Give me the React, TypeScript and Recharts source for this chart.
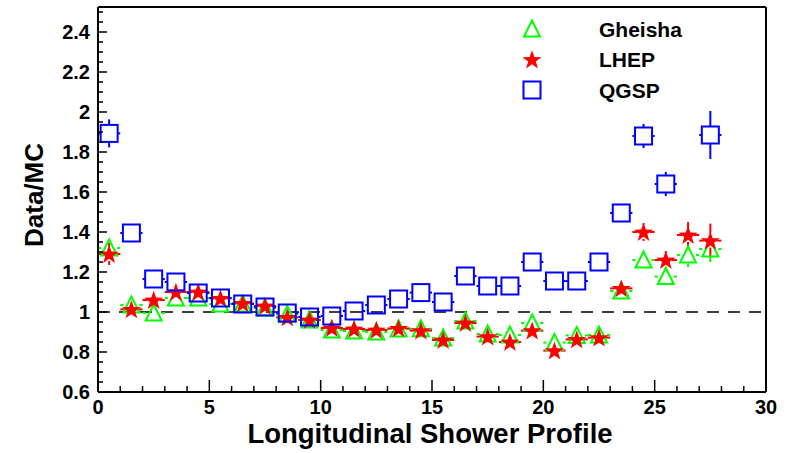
import { ScatterChart, Scatter, XAxis, YAxis, ErrorBar, ReferenceLine } from 'recharts'

// bin centres of the longitudinal profile
const bins = [0.5, 1.5, 2.5, 3.5, 4.5, 5.5, 6.5, 7.5, 8.5, 9.5, 10.5, 11.5, 12.5, 13.5,
  14.5, 15.5, 16.5, 17.5, 18.5, 19.5, 20.5, 21.5, 22.5, 23.5, 24.5, 25.5, 26.5, 27.5]

const gheisha = [1.32, 1.035, 0.995, 1.07, 1.07, 1.04, 1.04, 1.02, 0.987, 0.96, 0.91, 0.905, 0.9, 0.915,
  0.916, 0.87, 0.955, 0.89, 0.885, 0.945, 0.847, 0.883, 0.885, 1.105, 1.26, 1.177, 1.285, 1.315]
const gheishaErr = [0.03, 0.02, 0.02, 0.02, 0.02, 0.02, 0.02, 0.02, 0.02, 0.02, 0.02, 0.02, 0.02, 0.02,
  0.02, 0.02, 0.02, 0.02, 0.02, 0.02, 0.02, 0.02, 0.02, 0.03, 0.04, 0.04, 0.06, 0.065]

const lhep = [1.29, 1.013, 1.06, 1.1, 1.1, 1.068, 1.043, 1.03, 0.973, 0.96, 0.92, 0.915, 0.91, 0.918,
  0.907, 0.86, 0.945, 0.877, 0.85, 0.907, 0.807, 0.863, 0.872, 1.118, 1.4, 1.26, 1.385, 1.357]
const lhepErr = [0.055, 0.02, 0.02, 0.02, 0.02, 0.02, 0.02, 0.02, 0.02, 0.02, 0.02, 0.02, 0.02, 0.02,
  0.02, 0.02, 0.02, 0.02, 0.02, 0.02, 0.02, 0.02, 0.02, 0.03, 0.045, 0.045, 0.065, 0.085]

// no QGSP entry in bin 26.5
const qgsp = [1.893, 1.395, 1.165, 1.15, 1.095, 1.07, 1.04, 1.025, 0.995, 0.975, 0.98, 1.005, 1.035, 1.065,
  1.097, 1.05, 1.18, 1.13, 1.13, 1.25, 1.155, 1.155, 1.25, 1.495, 1.88, 1.64, null, 1.885]
const qgspErr = [0.07, 0.045, 0.02, 0.02, 0.02, 0.02, 0.02, 0.02, 0.02, 0.02, 0.02, 0.02, 0.02, 0.02,
  0.02, 0.02, 0.02, 0.02, 0.02, 0.02, 0.02, 0.02, 0.02, 0.03, 0.06, 0.06, 0, 0.12]

const xMajor = [0, 5, 10, 15, 20, 25, 30]
const xTicks = [0, 1, 2, 3, 4, 5, 6, 7, 8, 9, 10, 11, 12, 13, 14, 15, 16, 17, 18, 19, 20,
  21, 22, 23, 24, 25, 26, 27, 28, 29, 30]
const yTicks = [0.6, 0.65, 0.7, 0.75, 0.8, 0.85, 0.9, 0.95, 1, 1.05, 1.1, 1.15, 1.2, 1.25, 1.3, 1.35,
  1.4, 1.45, 1.5, 1.55, 1.6, 1.65, 1.7, 1.75, 1.8, 1.85, 1.9, 1.95, 2, 2.05, 2.1, 2.15, 2.2, 2.25,
  2.3, 2.35, 2.4, 2.45, 2.5]
const yMajor = [0.6, 0.8, 1, 1.2, 1.4, 1.6, 1.8, 2, 2.2, 2.4]

const Y_MIN = 0.6
const Y_MAX = 2.525
const HALF_BIN = 0.5

const FONT = '"Liberation Sans", Arial, Helvetica, sans-serif'
const GREEN = '#00ff00'
const RED = '#ff0000'
const BLUE = '#0000ff'

type Pt = { x: number; y: number; ex?: [number, number]; ey?: [number, number] }

function markers(vals: (number | null)[]): Pt[] {
  const out: Pt[] = []
  vals.forEach((v, i) => { if (v != null) out.push({ x: bins[i], y: v }) })
  return out
}

// ROOT leaves a gap around the marker, so the bars are split in two halves
function vBars(vals: (number | null)[], errs: number[], gap: number): Pt[] {
  const out: Pt[] = []
  vals.forEach((v, i) => {
    if (v == null || errs[i] <= gap) return
    out.push({ x: bins[i], y: v + gap, ey: [0, errs[i] - gap] })
    out.push({ x: bins[i], y: v - gap, ey: [errs[i] - gap, 0] })
  })
  return out
}

function hBars(vals: (number | null)[], gap: number): Pt[] {
  const out: Pt[] = []
  vals.forEach((v, i) => {
    if (v == null) return
    out.push({ x: bins[i] - gap, y: v, ex: [HALF_BIN - gap, 0] })
    out.push({ x: bins[i] + gap, y: v, ex: [0, HALF_BIN - gap] })
  })
  return out
}

function Triangle({ cx, cy }: { cx?: number; cy?: number }) {
  if (cx == null || cy == null) return <g />
  return (
    <polygon
      points={`${cx - 8},${cy + 7.5} ${cx + 8},${cy + 7.5} ${cx},${cy - 8.5}`}
      fill="none" stroke={GREEN} strokeWidth={2} strokeLinejoin="miter"
    />
  )
}

function Star({ cx, cy }: { cx?: number; cy?: number }) {
  if (cx == null || cy == null) return <g />
  const R = 10, r = 4
  const pts: string[] = []
  for (let k = 0; k < 10; k++) {
    const a = -Math.PI / 2 + (k * Math.PI) / 5
    const rr = k % 2 === 0 ? R : r
    pts.push(`${cx + rr * Math.cos(a)},${cy + rr * Math.sin(a) + 0.8}`)
  }
  return <polygon points={pts.join(' ')} fill={RED} stroke="none" />
}

function Square({ cx, cy }: { cx?: number; cy?: number }) {
  if (cx == null || cy == null) return <g />
  return <rect x={cx - 8.5} y={cy - 8.5} width={17} height={17} fill="none" stroke={BLUE} strokeWidth={2} />
}

const Nothing = () => <g />

function XTick(props: any) {
  const { x, y, payload } = props
  const v = payload.value as number
  const major = xMajor.includes(v)
  return (
    <g>
      <line x1={x} x2={x} y1={y} y2={y - (major ? 12 : 6)} stroke="#000" strokeWidth={1.5} />
      {major && (
        <text x={x} y={y + 21.5} textAnchor="middle" fontFamily={FONT} fontWeight="bold" fontSize={20} fill="#000">
          {v}
        </text>
      )}
    </g>
  )
}

function YTick(props: any) {
  const { x, y, payload } = props
  const v = payload.value as number
  const major = yMajor.some((m) => Math.abs(m - v) < 1e-6)
  return (
    <g>
      <line x1={x} x2={x + (major ? 9 : 5)} y1={y} y2={y} stroke="#000" strokeWidth={1.5} />
      {major && (
        <text x={x - 8} y={y} dy="0.36em" textAnchor="end" fontFamily={FONT} fontWeight="bold" fontSize={20} fill="#000">
          {String(Math.round(v * 10) / 10)}
        </text>
      )}
    </g>
  )
}

const series = [
  { name: 'Gheisha', vals: gheisha, errs: gheishaErr, color: GREEN, shape: Triangle, gy: 0.042, gx: 0.36 },
  { name: 'LHEP', vals: lhep, errs: lhepErr, color: RED, shape: Star, gy: 0.035, gx: 0.27 },
  { name: 'QGSP', vals: qgsp, errs: qgspErr, color: BLUE, shape: Square, gy: 0.045, gx: 0.4 },
]

export default function App() {
  return (
    <div style={{ position: 'absolute', left: 0, top: 0, width: 789, height: 453, background: '#fff' }}>
      <ScatterChart width={789} height={453} margin={{ top: 7, right: 23, bottom: 60, left: 97 }}>
        <XAxis
          type="number" dataKey="x" domain={[0, 30]} ticks={xTicks} interval={0}
          height={1} tickSize={0} tickMargin={0} tickLine={false}
          axisLine={{ stroke: '#000', strokeWidth: 2 }} tick={(p: any) => <XTick {...p} />}
          allowDataOverflow
        />
        <YAxis
          type="number" dataKey="y" domain={[Y_MIN, Y_MAX]} ticks={yTicks} interval={0}
          width={1} tickSize={0} tickMargin={0} tickLine={false}
          axisLine={{ stroke: '#000', strokeWidth: 2 }} tick={(p: any) => <YTick {...p} />}
          allowDataOverflow
        />
        <ReferenceLine y={Y_MAX} stroke="#000" strokeWidth={2} />
        <ReferenceLine x={30} stroke="#000" strokeWidth={2} />
        <ReferenceLine y={1} stroke="#000" strokeWidth={1.5} strokeDasharray="12 9" />
        {series.map((s) => [
          <Scatter key={s.name + 'h'} data={hBars(s.vals, s.gx)} shape={Nothing} isAnimationActive={false}>
            <ErrorBar dataKey="ex" direction="x" width={0} stroke={s.color} strokeWidth={2} isAnimationActive={false} />
          </Scatter>,
          <Scatter key={s.name + 'v'} data={vBars(s.vals, s.errs, s.gy)} shape={Nothing} isAnimationActive={false}>
            <ErrorBar dataKey="ey" direction="y" width={0} stroke={s.color} strokeWidth={2} isAnimationActive={false} />
          </Scatter>,
          <Scatter key={s.name} name={s.name} data={markers(s.vals)} shape={s.shape} isAnimationActive={false} />,
        ])}
      </ScatterChart>
      <svg width={789} height={453} style={{ position: 'absolute', left: 0, top: 0, pointerEvents: 'none' }}>
        <text x={43} y={195} transform="rotate(-90 43 195)" textAnchor="middle" fontFamily={FONT}
          fontWeight="bold" fontSize={26} fill="#000">Data/MC</text>
        <text x={430} y={443} textAnchor="middle" fontFamily={FONT} fontWeight="bold" fontSize={27.5} fill="#000">
          Longitudinal Shower Profile
        </text>
        {series.map((s, i) => {
          const cy = 29 + i * 30.5
          const Shape = s.shape
          return (
            <g key={s.name}>
              <Shape cx={532} cy={cy} />
              <text x={599} y={cy + 7.5} fontFamily={FONT} fontWeight="bold" fontSize={21} fill="#000">{s.name}</text>
            </g>
          )
        })}
      </svg>
    </div>
  )
}
